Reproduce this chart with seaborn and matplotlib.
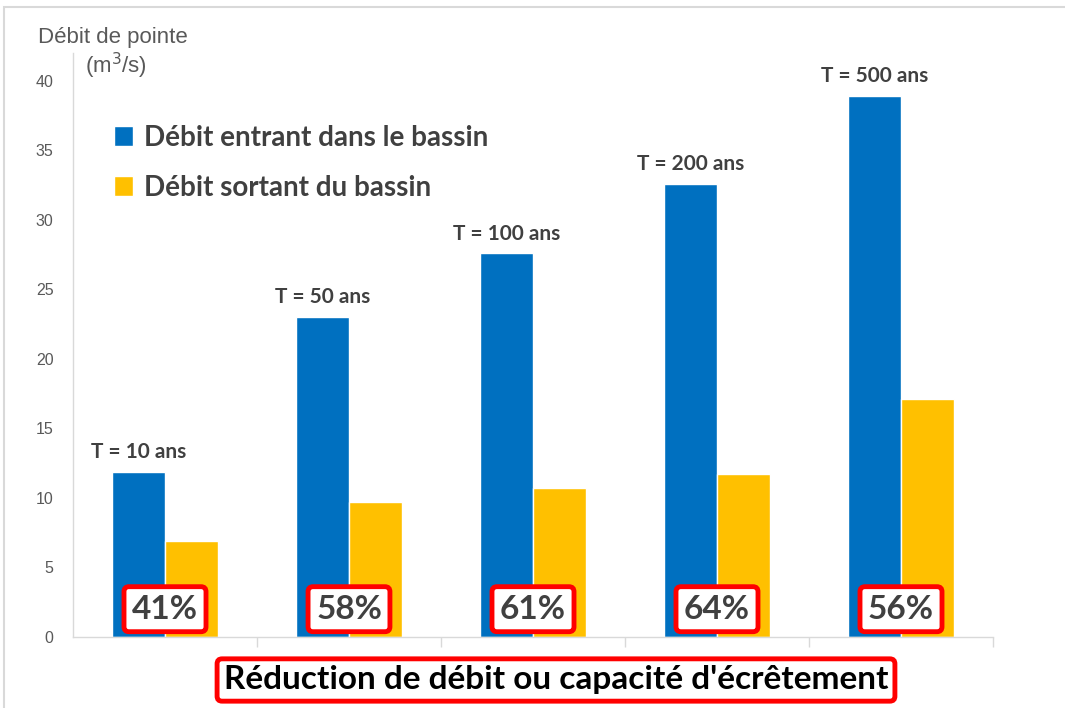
import seaborn as sns
import pandas as pd
import matplotlib.pyplot as plt
import matplotlib.patches as mpatches

# data
periodes = ['T = 10 ans', 'T = 50 ans', 'T = 100 ans', 'T = 200 ans', 'T = 500 ans']
debit_entrant = [11.9, 23.0, 27.6, 32.6, 38.9]
debit_sortant = [6.9, 9.7, 10.7, 11.7, 17.1]
reductions = ['41%', '58%', '61%', '64%', '56%']
series = ['Débit entrant dans le bassin', 'Débit sortant du bassin']

df = pd.DataFrame({
    'periode': periodes * 2,
    'debit': debit_entrant + debit_sortant,
    'serie': [series[0]] * 5 + [series[1]] * 5,
})

sns.set_theme(style='white')
plt.rcParams['font.family'] = ['Liberation Sans', 'DejaVu Sans']

grid = '#d9d9d9'
dark = '#404040'

f = plt.figure(figsize=(10.65, 7.08), dpi=100)
ax = f.add_axes([73 / 1065, 71 / 708, 920 / 1065, (637 - 53) / 708])

sns.barplot(data=df, x='periode', y='debit', hue='serie', palette=['#0070C0', '#FFC000'],
            width=0.58, gap=0, saturation=1, ax=ax)

ax.set_xlim(-0.5, 4.5)
ax.set_ylim(0, 42)
ax.set_yticks(range(0, 41, 5))
ax.tick_params(axis='y', labelsize=11.5, labelcolor='#595959', length=0, pad=14)
ax.set_xticks([0.5, 1.5, 2.5, 3.5, 4.5])
ax.set_xticklabels([])
ax.tick_params(axis='x', length=7, width=1, color=grid, direction='out', bottom=True)
ax.set_xlabel('')
ax.set_ylabel('')
for s in ['top', 'right']:
    ax.spines[s].set_visible(False)
for s in ['left', 'bottom']:
    ax.spines[s].set_color(grid)
    ax.spines[s].set_linewidth(1)

# category labels above the blue bars
for bar, lab in zip(ax.containers[0], periodes):
    ax.annotate(lab, (bar.get_x() + bar.get_width() / 2, bar.get_height()),
                xytext=(0, 7), textcoords='offset points', ha='center', va='bottom',
                fontsize=15, fontweight='bold', color=dark, family='Lato')

# reduction boxes
for i, r in enumerate(reductions):
    ax.text(i, 2.0, r, ha='center', va='center', fontsize=24, fontweight='bold',
            color=dark, family='Lato',
            bbox=dict(boxstyle='round,pad=0.24,rounding_size=0.15', fc='white', ec='#ff0000', lw=3.5))

# legend
leg = ax.legend(loc='upper left', bbox_to_anchor=(100 / 1065, 1 - 111 / 708),
                bbox_transform=f.transFigure, frameon=False, borderpad=0,
                handlelength=0.7, handleheight=0.7, handletextpad=0.4, labelspacing=0.85,
                prop={'family': 'Lato', 'weight': 'bold', 'size': 20})
for t in leg.get_texts():
    t.set_color(dark)

# axis title
f.text(38 / 1065, 1 - 38 / 708, 'Débit de pointe', fontsize=16, color='#595959', va='center')
f.text(85 / 1065, 1 - 66 / 708, '(m$^3$/s)', fontsize=16, color='#595959', va='center')

# bottom banner
f.text(556 / 1065, 1 - 680 / 708, "Réduction de débit ou capacité d'écrêtement",
       ha='center', va='center', fontsize=24, fontweight='bold', color='black', family='Lato',
       bbox=dict(boxstyle='round,pad=0.2,rounding_size=0.15', fc='white', ec='#ff0000', lw=3.5))

# outer frame
f.patches.append(mpatches.Rectangle((4 / 1065, -0.01), 1.0, (708 - 7) / 708 + 0.01,
                                    transform=f.transFigure, fill=False, ec=grid, lw=1.5))

plt.savefig('out.png', dpi=100)
